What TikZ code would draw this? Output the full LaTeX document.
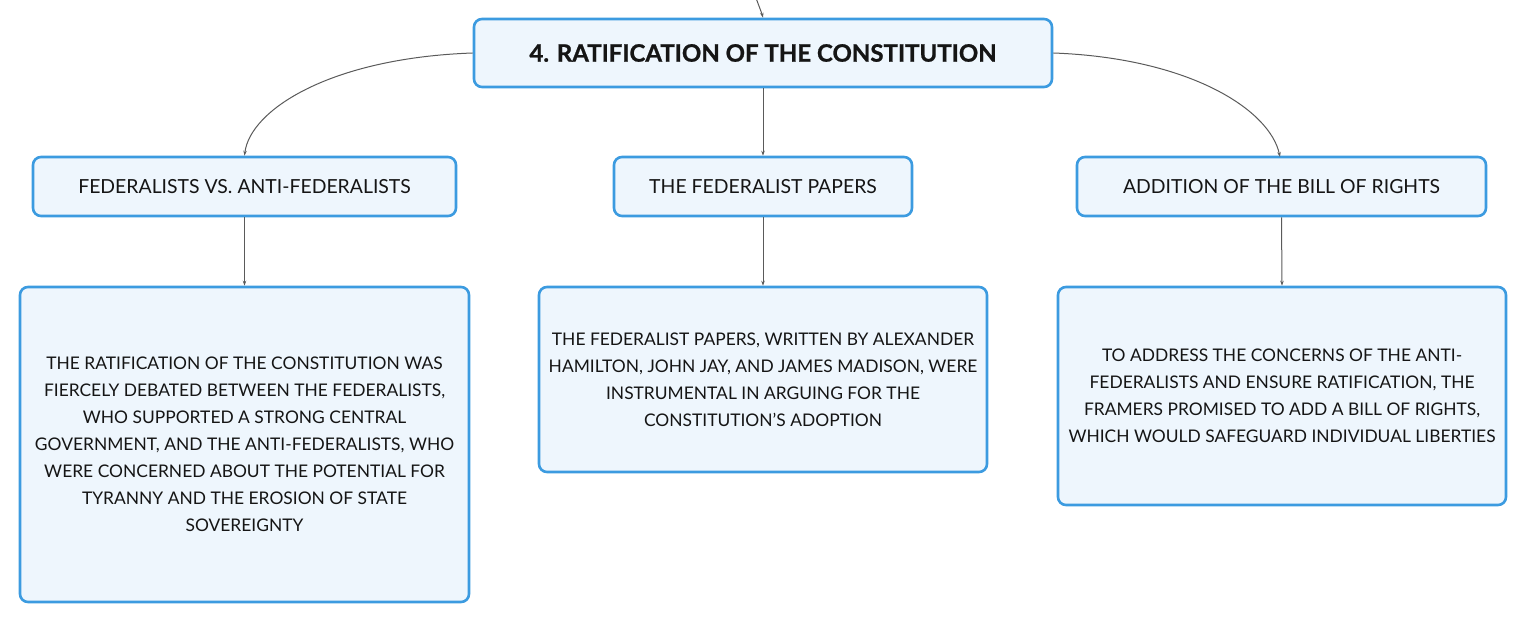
\documentclass[tikz,border=0pt]{standalone}
\usepackage{fontspec}
\setmainfont{Lato}
\usetikzlibrary{arrows.meta}
\definecolor{boxfill}{HTML}{EEF6FD}
\definecolor{boxline}{HTML}{3C9BE0}
\definecolor{linkc}{HTML}{5A5A5A}
\definecolor{txt}{HTML}{151515}
\begin{document}
\begin{tikzpicture}[x=1pt,y=-1pt,
  box/.style={draw=boxline,fill=boxfill,line width=2.6pt,rounded corners=8pt,inner sep=0pt,
    text=txt,align=center,font=\fontsize{17.4}{27}\selectfont},
  head/.style={box,minimum height=59pt,font=\fontsize{19.4}{24}\selectfont},
  link/.style={draw=linkc,line width=1pt,-{Stealth[length=5pt,width=3.5pt]}}]
\useasboundingbox (0,0) rectangle (1527,623);
\node[box,minimum width=578pt,minimum height=68pt,font=\fontsize{24}{28}\selectfont\bfseries\addfontfeature{FakeBold=0.9}] (root) at (763,53) {4. RATIFICATION OF THE CONSTITUTION};
\node[head,minimum width=423pt] (l1) at (244.5,186.5) {FEDERALISTS VS. ANTI-FEDERALISTS};
\node[head,minimum width=298pt] (m1) at (763,186.5) {THE FEDERALIST PAPERS};
\node[head,minimum width=409pt] (r1) at (1281.5,186.5) {ADDITION OF THE BILL OF RIGHTS};
\node[box,minimum width=449pt,minimum height=315pt] (l2) at (244.5,444.5) {THE RATIFICATION OF THE CONSTITUTION WAS\\FIERCELY DEBATED BETWEEN THE FEDERALISTS,\\WHO SUPPORTED A STRONG CENTRAL\\GOVERNMENT, AND THE ANTI-FEDERALISTS, WHO\\WERE CONCERNED ABOUT THE POTENTIAL FOR\\TYRANNY AND THE EROSION OF STATE\\SOVEREIGNTY};
\node[box,minimum width=448pt,minimum height=185pt] (m2) at (763,379.5) {THE FEDERALIST PAPERS, WRITTEN BY ALEXANDER\\HAMILTON, JOHN JAY, AND JAMES MADISON, WERE\\INSTRUMENTAL IN ARGUING FOR THE\\CONSTITUTION'S ADOPTION};
\node[box,minimum width=448pt,minimum height=218pt] (r2) at (1282,396) {TO ADDRESS THE CONCERNS OF THE ANTI-\\FEDERALISTS AND ENSURE RATIFICATION, THE\\FRAMERS PROMISED TO ADD A BILL OF RIGHTS,\\WHICH WOULD SAFEGUARD INDIVIDUAL LIBERTIES};
\coordinate (src) at (756,-2);
\draw[link] (src) .. controls (760,6) .. (root.north);
\draw[link] (root.west) .. controls (330,58) and (250,110) .. (l1.north);
\draw[link] (root.south) -- (m1.north);
\draw[link] (root.east) .. controls (1190,58) and (1270,110) .. (1280,157);
\draw[link] (l1.south) -- (l2.north);
\draw[link] (m1.south) -- (m2.north);
\draw[link] (r1.south) -- (r2.north);
\end{tikzpicture}
\end{document}
